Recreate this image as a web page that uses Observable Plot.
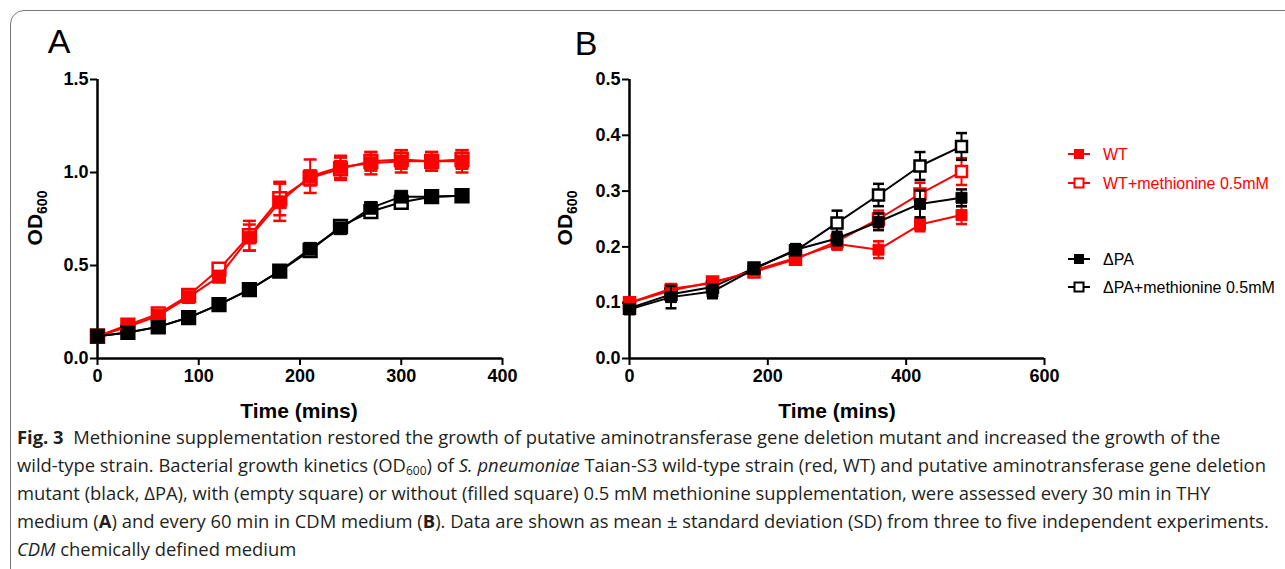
<!DOCTYPE html>
<html>
<head>
<meta charset="utf-8">
<script src="https://cdn.jsdelivr.net/npm/d3@7"></script>
<script src="https://cdn.jsdelivr.net/npm/@observablehq/plot@0.6"></script>
<style>
  html, body { margin: 0; padding: 0; background: #fff; }
  body { width: 1285px; height: 569px; position: relative; overflow: hidden; }
  #frame { position: absolute; left: 10px; top: 10px; width: 1300px; height: 590px;
           border: 1.5px solid #777; border-radius: 14px; box-sizing: border-box; }
  .abs { position: absolute; }
  #caption { position: absolute; left: 17px; top: 423px; font-family: "Open Sans", "Noto Sans", sans-serif;
             font-size: 18.4px; line-height: 28px; color: #231f20; white-space: nowrap; }
  #caption sub { font-size: 12px; line-height: 0; vertical-align: -3px; }
  #caption .line { display: block; }
</style>
</head>
<body>
<div id="frame"></div>
<div id="panelA" class="abs" style="left:0;top:0"></div>
<div id="panelB" class="abs" style="left:540px;top:0"></div>
<div id="legend" class="abs" style="left:1060px;top:130px"></div>
<div id="caption">
  <span class="line"><b>Fig. 3</b>&nbsp; Methionine supplementation restored the growth of putative aminotransferase gene deletion mutant and increased the growth of the</span>
  <span class="line">wild-type strain. Bacterial growth kinetics (OD<sub>600</sub>) of <i>S. pneumoniae</i> Taian-S3 wild-type strain (red, WT) and putative aminotransferase gene deletion</span>
  <span class="line">mutant (black, ΔPA), with (empty square) or without (filled square) 0.5 mM methionine supplementation, were assessed every 30 min in THY</span>
  <span class="line">medium (<b>A</b>) and every 60 min in CDM medium (<b>B</b>). Data are shown as mean ± standard deviation (SD) from three to five independent experiments.</span>
  <span class="line"><i>CDM</i> chemically defined medium</span>
</div>
<script>
// ---------------- DATA ----------------
const seriesNames = ["ΔPA", "ΔPA+methionine 0.5mM", "WT", "WT+methionine 0.5mM"];
const seriesColors = ["#000000", "#000000", "#ff0000", "#ff0000"];
const seriesFilled = [true, false, true, false];
const legendOrder = ["WT", "WT+methionine 0.5mM", "ΔPA", "ΔPA+methionine 0.5mM"];
const drawOrder = ["WT+methionine 0.5mM", "ΔPA+methionine 0.5mM", "WT", "ΔPA"];

// Panel A: THY medium, every 30 min
const timeA = [0, 30, 60, 90, 120, 150, 180, 210, 240, 270, 300, 330, 360];
const dpaA      = [0.12, 0.14, 0.17, 0.22, 0.29, 0.37, 0.47, 0.59, 0.70, 0.81, 0.87, 0.87, 0.875];
const dpaA_sd   = [0.01, 0.01, 0.01, 0.01, 0.01, 0.01, 0.01, 0.01, 0.01, 0.01, 0.01, 0.01, 0.01];
const dpaMetA   = [0.12, 0.14, 0.17, 0.22, 0.29, 0.37, 0.47, 0.58, 0.71, 0.79, 0.84, 0.87, 0.875];
const dpaMetA_sd= [0.01, 0.01, 0.01, 0.01, 0.01, 0.01, 0.01, 0.01, 0.01, 0.01, 0.01, 0.01, 0.01];
const wtA       = [0.12, 0.17, 0.23, 0.33, 0.44, 0.65, 0.84, 0.98, 1.03, 1.05, 1.06, 1.06, 1.06];
const wtA_sd    = [0.01, 0.01, 0.01, 0.02, 0.03, 0.07, 0.10, 0.09, 0.06, 0.06, 0.06, 0.05, 0.06];
const wtMetA    = [0.12, 0.18, 0.24, 0.34, 0.48, 0.66, 0.86, 0.97, 1.02, 1.06, 1.07, 1.06, 1.07];
const wtMetA_sd = [0.01, 0.01, 0.01, 0.02, 0.03, 0.08, 0.09, 0.04, 0.06, 0.05, 0.05, 0.05, 0.05];

// Panel B: CDM medium, every 60 min
const timeB = [0, 60, 120, 180, 240, 300, 360, 420, 480];
const dpaB      = [0.088, 0.110, 0.120, 0.160, 0.195, 0.215, 0.245, 0.277, 0.288];
const dpaB_sd   = [0.008, 0.020, 0.012, 0.008, 0.010, 0.012, 0.015, 0.024, 0.015];
const dpaMetB   = [0.090, 0.115, 0.128, 0.162, 0.193, 0.243, 0.293, 0.345, 0.380];
const dpaMetB_sd= [0.008, 0.010, 0.010, 0.008, 0.010, 0.022, 0.020, 0.025, 0.024];
const wtB       = [0.100, 0.125, 0.135, 0.158, 0.180, 0.205, 0.195, 0.240, 0.257];
const wtB_sd    = [0.005, 0.008, 0.008, 0.008, 0.008, 0.010, 0.015, 0.012, 0.016];
const wtMetB    = [0.100, 0.122, 0.137, 0.155, 0.178, 0.210, 0.250, 0.295, 0.335];
const wtMetB_sd = [0.005, 0.008, 0.008, 0.008, 0.008, 0.010, 0.015, 0.020, 0.024];

const xTicksA = [0, 100, 200, 300, 400];
const yTicksA = [0, 0.5, 1.0, 1.5];
const xTicksB = [0, 200, 400, 600];
const yTicksB = [0, 0.1, 0.2, 0.3, 0.4, 0.5];

// --------------- helpers ---------------
const capSymbol = { draw(ctx, size) { const w = Math.sqrt(size / Math.PI); ctx.moveTo(-w, 0); ctx.lineTo(w, 0); } };

function tidy(times, vals, sds, i) {
  return times.map((t, k) => ({ t, v: vals[k], sd: sds[k], name: seriesNames[i] }));
}

function seriesMarks(rows, i, sq, cap) {
  const c = seriesColors[i];
  const filled = seriesFilled[i];
  return [
    Plot.ruleX(rows, { x: "t", y1: d => d.v - d.sd, y2: d => d.v + d.sd, stroke: c, strokeWidth: 2 }),
    Plot.dot(rows, { x: "t", y: d => d.v - d.sd, symbol: capSymbol, r: cap, stroke: c, fill: "none", strokeWidth: 2.5 }),
    Plot.dot(rows, { x: "t", y: d => d.v + d.sd, symbol: capSymbol, r: cap, stroke: c, fill: "none", strokeWidth: 2.5 }),
    Plot.line(rows, { x: "t", y: "v", stroke: c, strokeWidth: 2 }),
    Plot.dot(rows, { x: "t", y: "v", symbol: "square", r: sq, fill: filled ? c : "#fff", stroke: c, strokeWidth: filled ? 1 : 2.5 })
  ];
}

function panel(opts) {
  const { width, height, ml, mr, mt, mb, xDomain, yDomain, xTicks, yTicks, yFmt, series, sq, cap } = opts;
  const marks = [];
  drawOrder.forEach(name => {
    const i = seriesNames.indexOf(name);
    marks.push(...seriesMarks(series[i], i, sq, cap));
  });
  return Plot.plot({
    width, height,
    marginLeft: ml, marginRight: mr, marginTop: mt, marginBottom: mb,
    style: { fontFamily: "'Liberation Sans', Arial, sans-serif", fontWeight: "bold", fontSize: "18px", color: "#000", background: "transparent", overflow: "visible" },
    x: { domain: xDomain },
    y: { domain: yDomain },
    marks: [
      Plot.axisX({ ticks: xTicks, tickSize: 7, tickPadding: 4, strokeWidth: 2, label: null, fontWeight: "bold" }),
      Plot.axisY({ ticks: yTicks, tickSize: 7, tickPadding: 2, strokeWidth: 2, label: null, tickFormat: yFmt, fontWeight: "bold" }),
      Plot.ruleY([yDomain[0]], { stroke: "#000", strokeWidth: 2.5 }),
      Plot.ruleX([xDomain[0]], { stroke: "#000", strokeWidth: 2.5 }),
      ...marks
    ]
  });
}

function addLabels(svg, letter, letterX, letterY, ylabX, ylabY, xlabX, xlabY) {
  const s = d3.select(svg);
  s.append("text").attr("x", letterX).attr("y", letterY)
    .attr("font-family", "'Liberation Sans', Arial, sans-serif").attr("font-size", 34).attr("font-weight", "normal")
    .attr("fill", "#000").text(letter);
  const yl = s.append("text")
    .attr("transform", `translate(${ylabX},${ylabY}) rotate(-90)`)
    .attr("text-anchor", "middle")
    .attr("font-family", "'Liberation Sans', Arial, sans-serif").attr("font-size", 21).attr("font-weight", "bold").attr("fill", "#000");
  yl.append("tspan").text("OD");
  yl.append("tspan").attr("font-size", 14).attr("dy", 5).text("600");
  s.append("text").attr("x", xlabX).attr("y", xlabY).attr("text-anchor", "middle")
    .attr("font-family", "'Liberation Sans', Arial, sans-serif").attr("font-size", 21).attr("font-weight", "bold")
    .attr("fill", "#000").text("Time (mins)");
}

// --------------- Panel A ---------------
const seriesA = [
  tidy(timeA, dpaA, dpaA_sd, 0),
  tidy(timeA, dpaMetA, dpaMetA_sd, 1),
  tidy(timeA, wtA, wtA_sd, 2),
  tidy(timeA, wtMetA, wtMetA_sd, 3)
];
const chartA = panel({ width: 540, height: 430, ml: 97, mr: 38, mt: 79, mb: 72,
  xDomain: [0, 400], yDomain: [0, 1.5], xTicks: xTicksA, yTicks: yTicksA, yFmt: d3.format(".1f"),
  series: seriesA, sq: 7.2, cap: 6.5 });
addLabels(chartA, "A", 59, 53, 42, 218, 299, 418);
document.getElementById("panelA").appendChild(chartA);

// --------------- Panel B ---------------
const seriesB = [
  tidy(timeB, dpaB, dpaB_sd, 0),
  tidy(timeB, dpaMetB, dpaMetB_sd, 1),
  tidy(timeB, wtB, wtB_sd, 2),
  tidy(timeB, wtMetB, wtMetB_sd, 3)
];
const chartB = panel({ width: 520, height: 430, ml: 89, mr: 16, mt: 79, mb: 72,
  xDomain: [0, 600], yDomain: [0, 0.5], xTicks: xTicksB, yTicks: yTicksB, yFmt: d3.format(".1f"),
  series: seriesB, sq: 6.2, cap: 5.5 });
addLabels(chartB, "B", 46, 55, 32, 218, 297, 418);
document.getElementById("panelB").appendChild(chartB);

// --------------- Legend ---------------
(function legend() {
  const ys = [24, 53, 129, 157];
  const svg = d3.select("#legend").append("svg").attr("width", 225).attr("height", 180);
  legendOrder.forEach((name, k) => {
    const i = seriesNames.indexOf(name);
    const c = seriesColors[i];
    const g = svg.append("g").attr("transform", `translate(0,${ys[k]})`);
    g.append("line").attr("x1", 8).attr("x2", 30).attr("stroke", c).attr("stroke-width", 2);
    g.append("rect").attr("x", 14.5).attr("y", -4.5).attr("width", 9).attr("height", 9)
      .attr("fill", seriesFilled[i] ? c : "#fff").attr("stroke", c).attr("stroke-width", seriesFilled[i] ? 1 : 2);
    g.append("text").attr("x", 43).attr("y", 5.5)
      .attr("font-family", "'Liberation Sans', Arial, sans-serif").attr("font-size", 16)
      .attr("fill", c).text(name);
  });
})();
</script>
</body>
</html>
